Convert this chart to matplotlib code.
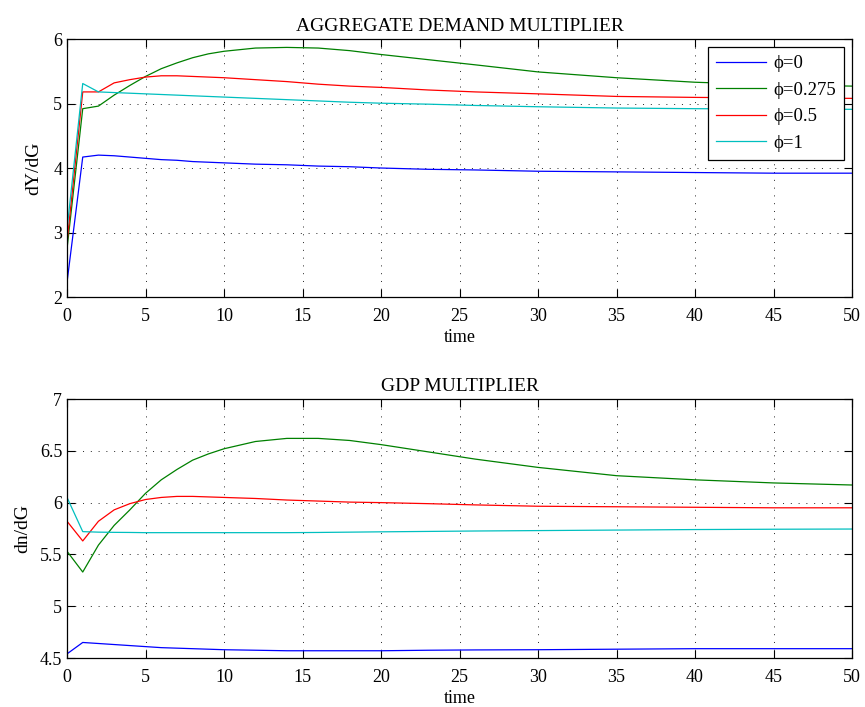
import matplotlib
matplotlib.use("Agg")
import matplotlib.pyplot as plt

plt.rcParams['font.family'] = ['Liberation Serif', 'DejaVu Serif']

# time points
t = [0, 1, 2, 3, 4, 5, 6, 7, 8, 9, 10, 12, 14, 16, 18, 20, 23, 26, 30, 35, 40, 45, 50]

# Aggregate demand multiplier dY/dG
ad_phi0 = [2.23, 4.17, 4.20, 4.19, 4.17, 4.15, 4.13, 4.12, 4.10, 4.09, 4.08, 4.06, 4.05, 4.03, 4.02, 4.00,
           3.98, 3.97, 3.95, 3.94, 3.93, 3.92, 3.92]
ad_phi0275 = [2.75, 4.92, 4.96, 5.13, 5.28, 5.42, 5.54, 5.63, 5.71, 5.77, 5.81, 5.86, 5.87, 5.86, 5.82, 5.76,
              5.68, 5.60, 5.49, 5.40, 5.33, 5.29, 5.27]
ad_phi05 = [2.85, 5.18, 5.18, 5.32, 5.37, 5.41, 5.43, 5.43, 5.42, 5.41, 5.40, 5.37, 5.34, 5.30, 5.27, 5.25,
            5.21, 5.18, 5.15, 5.11, 5.095, 5.085, 5.08]
ad_phi1 = [3.05, 5.31, 5.18, 5.17, 5.16, 5.15, 5.14, 5.13, 5.12, 5.11, 5.10, 5.08, 5.06, 5.04, 5.02, 5.005,
           4.99, 4.97, 4.95, 4.93, 4.92, 4.915, 4.91]

# GDP multiplier dn/dG
gdp_phi0 = [4.54, 4.65, 4.64, 4.63, 4.62, 4.61, 4.60, 4.595, 4.59, 4.585, 4.58, 4.575, 4.57, 4.57, 4.57, 4.57,
            4.575, 4.578, 4.58, 4.585, 4.59, 4.59, 4.59]
gdp_phi0275 = [5.53, 5.33, 5.59, 5.78, 5.93, 6.09, 6.22, 6.32, 6.41, 6.47, 6.52, 6.59, 6.62, 6.62, 6.60, 6.56,
               6.49, 6.42, 6.34, 6.26, 6.22, 6.19, 6.17]
gdp_phi05 = [5.82, 5.63, 5.82, 5.93, 5.99, 6.03, 6.05, 6.06, 6.06, 6.055, 6.05, 6.04, 6.025, 6.015, 6.005, 6.0,
             5.99, 5.978, 5.965, 5.96, 5.955, 5.95, 5.95]
gdp_phi1 = [6.05, 5.72, 5.715, 5.713, 5.712, 5.71, 5.71, 5.71, 5.71, 5.71, 5.71, 5.71, 5.71, 5.712, 5.715, 5.718,
            5.722, 5.726, 5.73, 5.735, 5.74, 5.743, 5.745]

labels = ['\u03d5=0', '\u03d5=0.275', '\u03d5=0.5', '\u03d5=1']
colors = ['#0000ff', '#008000', '#ff0000', '#00bfbf']

xticks = [0, 5, 10, 15, 20, 25, 30, 35, 40, 45, 50]
yticks_top = [2, 3, 4, 5, 6]
yticks_bot = [4.5, 5, 5.5, 6, 6.5, 7]
ytick_bot_labels = ['4.5', '5', '5.5', '6', '6.5', '7']

fig = plt.figure(figsize=(8.65, 7.07), dpi=100)
ax1 = fig.add_axes([0.0775, 0.5799, 0.9075, 0.3649])
ax2 = fig.add_axes([0.0775, 0.0693, 0.9075, 0.3663])


def style(ax):
    ax.set_xlim(0, 50)
    ax.set_xticks(xticks)
    ax.grid(True, linestyle=(0, (1, 7)), color='#222222', linewidth=0.7)
    ax.tick_params(direction='in', top=True, right=True, length=6, width=0.8,
                   labelsize=13)
    ax.tick_params(axis='x', pad=8)
    ax.tick_params(axis='y', pad=3.5)
    for s in ax.spines.values():
        s.set_linewidth(0.9)
    ax.set_xlabel('time', fontsize=13, labelpad=3)


for ys, c, lab in zip([ad_phi0, ad_phi0275, ad_phi05, ad_phi1], colors, labels):
    ax1.plot(t, ys, color=c, linewidth=0.9, label=lab)
ax1.set_ylim(2, 6)
ax1.set_yticks(yticks_top)
style(ax1)
ax1.set_ylabel('dY/dG', fontsize=14, labelpad=8)
ax1.set_title('AGGREGATE DEMAND MULTIPLIER', fontsize=14, pad=6)
leg = ax1.legend(loc='upper right', fontsize=13.5, fancybox=False, edgecolor='black',
                 framealpha=1, handlelength=2.7, handletextpad=0.35, borderaxespad=0.45,
                 labelspacing=0.5, borderpad=0.42)
leg.get_frame().set_linewidth(0.9)

for ys, c in zip([gdp_phi0, gdp_phi0275, gdp_phi05, gdp_phi1], colors):
    ax2.plot(t, ys, color=c, linewidth=0.9)
ax2.set_ylim(4.5, 7)
ax2.set_yticks(yticks_bot)
ax2.set_yticklabels(ytick_bot_labels)
style(ax2)
ax2.set_ylabel('dn/dG', fontsize=14, labelpad=6)
ax2.set_title('GDP MULTIPLIER', fontsize=14, pad=6)

fig.savefig('out.png', dpi=100)
